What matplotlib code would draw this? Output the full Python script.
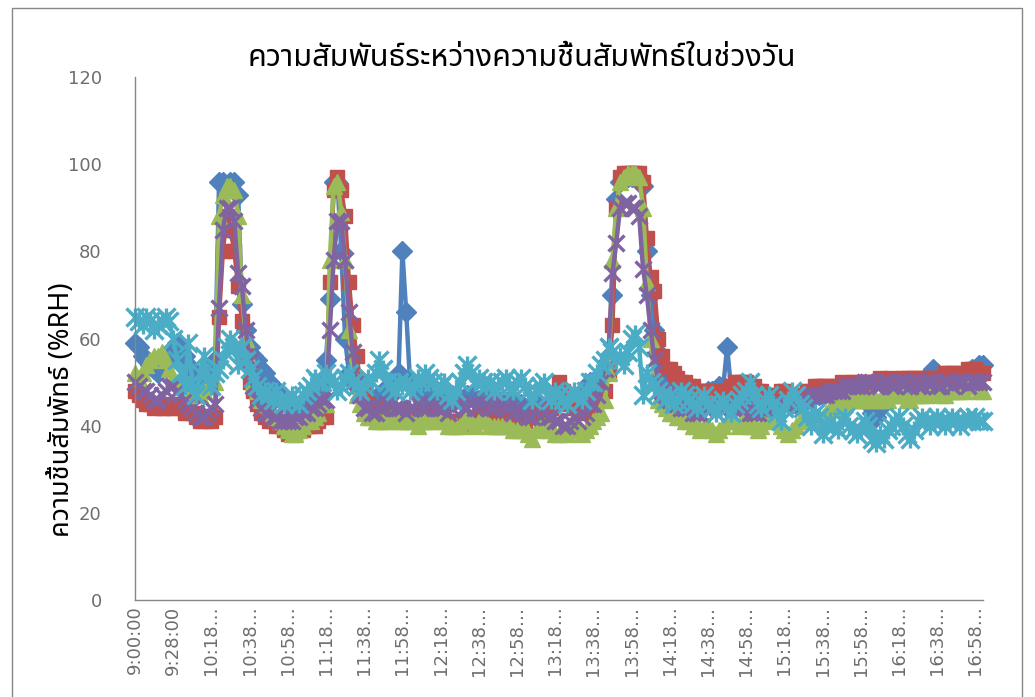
import matplotlib
matplotlib.use("Agg")
import matplotlib.pyplot as plt
from matplotlib import font_manager as fm
from matplotlib.ft2font import FT2Font
from matplotlib.path import Path
from matplotlib.patches import Rectangle

# ---------------------------------------------------------------- data
title = "ความสัมพันธ์ระหว่างความชื้นสัมพัทธ์ในช่วงวัน"
ylabel = "ความชื้นสัมพัทธ์ (%RH)"

tick_labels = ["9:00:00", "9:28:00", "10:18…", "10:38…", "10:58…", "11:18…",
               "11:38…", "11:58…", "12:18…", "12:38…", "12:58…", "13:18…",
               "13:38…", "13:58…", "14:18…", "14:38…", "14:58…", "15:18…",
               "15:38…", "15:58…", "16:18…", "16:38…", "16:58…"]
tick_every = 10

s_blue = [
    59, 58, 56, 55, 54, 53, 52, 53, 54, 55,
    57, 59, 58, 56, 54, 53, 52, 51, 52, 53,
    54, 55, 96, 96, 95, 96, 96, 93, 68, 62,
    58, 56, 55, 53, 52, 50, 49, 48, 47, 46,
    45, 45, 44, 44, 45, 46, 46, 47, 48, 50,
    55, 69, 96, 96, 80, 60, 52, 50, 49, 48,
    47, 47, 46, 46, 47, 48, 48, 49, 50, 52,
    80, 66, 50, 49, 48, 47, 47, 48, 48, 47,
    47, 46, 46, 47, 47, 46, 46, 47, 47, 46,
    46, 46, 47, 47, 46, 46, 45, 45, 46, 46,
    45, 45, 44, 44, 45, 45, 45, 44, 45, 46,
    47, 47, 47, 46, 46, 46, 46, 47, 48, 50,
    50, 51, 51, 52, 55, 70, 92, 96, 97, 97,
    97, 97, 97, 95, 80, 70, 62, 57, 54, 52,
    50, 50, 49, 49, 48, 48, 48, 47, 47, 47,
    48, 48, 48, 49, 49, 58, 49, 48, 48, 48,
    48, 47, 47, 46, 46, 46, 45, 45, 46, 46,
    46, 46, 45, 45, 45, 46, 46, 47, 47, 47,
    47, 48, 48, 48, 48, 48, 48, 47, 47, 47,
    47, 46, 45, 43, 42, 44, 46, 47, 48, 48,
    48, 48, 49, 49, 50, 50, 50, 51, 52, 53,
    52, 51, 50, 50, 50, 51, 51, 52, 52, 53,
    53, 54, 54,
]

s_red = [
    48, 47, 46, 45, 45, 44, 45, 44, 44, 45,
    44, 45, 44, 43, 44, 43, 42, 41, 41, 42,
    41, 42, 65, 80, 88, 85, 80, 72, 64, 56,
    50, 48, 45, 43, 42, 41, 41, 40, 40, 39,
    38, 38, 38, 39, 39, 40, 40, 40, 41, 42,
    42, 73, 94, 97, 94, 88, 73, 63, 56, 50,
    47, 45, 44, 44, 43, 43, 42, 43, 42, 42,
    43, 42, 42, 43, 42, 41, 42, 42, 42, 43,
    42, 41, 41, 40, 41, 40, 40, 41, 41, 42,
    42, 43, 42, 41, 41, 42, 43, 42, 41, 41,
    40, 41, 41, 42, 42, 43, 42, 41, 43, 44,
    47, 50, 48, 46, 45, 44, 44, 43, 44, 44,
    45, 46, 47, 48, 52, 63, 90, 97, 98, 98,
    98, 98, 98, 96, 83, 74, 71, 60, 56, 53,
    53, 52, 51, 50, 50, 49, 49, 48, 48, 48,
    48, 47, 47, 48, 47, 48, 49, 50, 50, 50,
    50, 49, 49, 48, 48, 47, 47, 46, 47, 48,
    48, 47, 47, 46, 46, 47, 48, 48, 49, 49,
    49, 49, 48, 49, 49, 50, 49, 49, 50, 50,
    49, 50, 50, 50, 50, 51, 50, 50, 51, 50,
    50, 51, 51, 50, 51, 51, 51, 50, 51, 51,
    51, 51, 52, 52, 52, 51, 52, 52, 53, 53,
    53, 52, 52,
]

s_green = [
    52, 51, 52, 54, 55, 56, 56, 57, 55, 53,
    51, 50, 50, 49, 49, 48, 47, 47, 48, 49,
    50, 50, 88, 93, 95, 95, 94, 88, 70, 60,
    55, 50, 48, 46, 45, 44, 43, 42, 41, 40,
    39, 38, 38, 39, 40, 41, 41, 42, 43, 45,
    45, 78, 95, 96, 89, 78, 62, 52, 47, 45,
    43, 42, 42, 41, 41, 41, 41, 42, 42, 41,
    41, 41, 41, 41, 40, 41, 41, 41, 41, 42,
    42, 41, 40, 40, 40, 40, 41, 41, 41, 40,
    41, 41, 41, 40, 40, 40, 40, 40, 40, 39,
    39, 39, 40, 38, 37, 39, 40, 40, 39, 39,
    38, 38, 39, 38, 39, 40, 39, 38, 39, 40,
    41, 42, 43, 46, 52, 78, 90, 96, 97, 98,
    98, 98, 97, 90, 73, 60, 50, 46, 45, 44,
    43, 43, 42, 42, 41, 41, 40, 40, 39, 40,
    40, 39, 38, 39, 40, 41, 41, 41, 40, 41,
    41, 40, 40, 39, 40, 41, 42, 42, 41, 40,
    39, 38, 39, 40, 41, 41, 42, 42, 41, 42,
    42, 43, 44, 44, 45, 45, 45, 46, 46, 46,
    46, 46, 46, 47, 46, 46, 46, 46, 47, 47,
    47, 47, 46, 46, 47, 47, 47, 47, 48, 48,
    48, 47, 47, 48, 48, 48, 48, 48, 49, 49,
    49, 48, 48,
]

s_purple = [
    50, 49, 48, 48, 47, 46, 46, 47, 48, 49,
    49, 48, 47, 46, 45, 44, 43, 42, 42, 43,
    44, 45, 67, 85, 90, 90, 87, 75, 72, 62,
    55, 49, 46, 44, 43, 43, 42, 42, 41, 41,
    41, 41, 42, 42, 43, 43, 44, 44, 45, 46,
    46, 62, 78, 87, 87, 78, 66, 57, 50, 47,
    44, 44, 43, 43, 44, 44, 45, 45, 44, 44,
    44, 43, 44, 44, 45, 44, 44, 45, 45, 44,
    44, 44, 43, 44, 45, 45, 44, 44, 45, 44,
    45, 46, 45, 44, 44, 45, 45, 44, 44, 43,
    44, 43, 43, 42, 42, 43, 44, 43, 42, 42,
    41, 41, 40, 40, 41, 42, 41, 42, 43, 45,
    45, 47, 50, 53, 58, 75, 82, 90, 91, 91,
    90, 90, 88, 76, 70, 62, 55, 50, 48, 47,
    46, 45, 45, 44, 44, 44, 43, 43, 43, 44,
    44, 44, 43, 44, 44, 45, 45, 45, 44, 44,
    44, 43, 43, 43, 44, 44, 44, 44, 44, 45,
    45, 45, 45, 45, 46, 46, 46, 47, 47, 47,
    47, 47, 48, 48, 48, 48, 49, 49, 49, 49,
    49, 50, 50, 50, 49, 49, 50, 50, 49, 49,
    50, 50, 50, 49, 50, 49, 49, 50, 50, 50,
    49, 49, 50, 50, 49, 50, 50, 50, 49, 50,
    50, 50, 50,
]

s_cyan = [
    65, 64, 63, 65, 64, 62, 63, 64, 65, 64,
    60, 55, 52, 49, 59, 50, 47, 52, 56, 51,
    49, 52, 53, 55, 58, 60, 58, 54, 58, 55,
    53, 51, 49, 47, 48, 47, 46, 48, 46, 45,
    46, 47, 46, 45, 47, 48, 49, 51, 50, 50,
    52, 51, 50, 48, 49, 51, 52, 50, 49, 48,
    49, 51, 50, 52, 55, 53, 50, 49, 48, 50,
    49, 50, 48, 49, 51, 50, 52, 51, 50, 48,
    49, 50, 47, 46, 48, 50, 52, 54, 52, 50,
    51, 50, 49, 50, 48, 49, 50, 51, 49, 48,
    50, 51, 49, 48, 46, 48, 49, 50, 47, 46,
    48, 47, 46, 45, 47, 48, 47, 46, 48, 50,
    50, 52, 54, 55, 58, 57, 55, 56, 54, 57,
    60, 61, 58, 47, 52, 50, 49, 48, 47, 46,
    47, 45, 46, 48, 47, 46, 45, 44, 46, 47,
    45, 44, 43, 45, 46, 44, 43, 45, 46, 47,
    48, 50, 47, 45, 44, 46, 47, 45, 43, 41,
    44, 46, 48, 47, 45, 44, 42, 40, 43, 42,
    38, 40, 41, 40, 39, 41, 42, 40, 39, 38,
    39, 41, 40, 37, 36, 38, 37, 39, 40, 41,
    42, 40, 38, 37, 39, 41, 42, 41, 40, 41,
    42, 41, 40, 41, 42, 41, 40, 41, 42, 41,
    42, 41, 41,
]


# ---------------------------------------------------------------- fonts
def pick_thai_family():
    sample = "ความสัมพันธ์ชื้"
    preferred = ["Tahoma", "Noto Sans Thai", "Noto Sans Thai UI", "Loma",
                 "Garuda", "Sarabun", "TH Sarabun New", "Norasi", "Kinnari",
                 "Waree", "Umpush", "Laksaman", "FreeSans", "Noto Serif Thai"]
    candidates = []
    for f in fm.fontManager.ttflist:
        try:
            cmap = FT2Font(f.fname).get_charmap()
        except Exception:
            continue
        if all(ord(c) in cmap for c in sample):
            candidates.append(f.name)
    for name in preferred:
        if name in candidates:
            return name
    return candidates[0] if candidates else None


thai = pick_thai_family()
families = ([thai] if thai else []) + ["DejaVu Sans"]
plt.rcParams["font.family"] = families

# ---------------------------------------------------------------- figure
W, H = 1035, 697
fig = plt.figure(figsize=(W / 100, H / 100), dpi=100)
fig.patch.set_facecolor("white")

# chart-area outline
fig.add_artist(Rectangle((12 / W, -0.05), (1022 - 12) / W, 1.05 - 8 / H,
                         transform=fig.transFigure, fill=False,
                         edgecolor="#868686", linewidth=1.0))

left, right, top, bottom = 135, 983, 77, 600
ax = fig.add_axes([left / W, 1 - bottom / H, (right - left) / W, (bottom - top) / H])

x = list(range(len(s_blue)))

# asterisk marker: vertical stroke plus an X
star = Path([(0, -1), (0, 1), (-1, -1), (1, 1), (-1, 1), (1, -1)],
            [Path.MOVETO, Path.LINETO, Path.MOVETO, Path.LINETO,
             Path.MOVETO, Path.LINETO])

series = [
    (s_blue, "#4F81BD", "D", 10, 1.0),
    (s_red, "#C0504D", "s", 10, 1.0),
    (s_green, "#9BBB59", "^", 12, 1.0),
    (s_purple, "#8064A2", "x", 11, 2.4),
    (s_cyan, "#4BACC6", star, 13, 2.4),
]
for vals, col, mk, ms, mew in series:
    ax.plot(x, vals, color=col, linewidth=3.2, marker=mk, markersize=ms,
            markerfacecolor=col, markeredgecolor=col, markeredgewidth=mew,
            solid_joinstyle="round", clip_on=False)

ax.set_xlim(0, len(s_blue) - 1)
ax.set_ylim(0, 120)
ax.set_yticks(range(0, 121, 20))
ax.set_xticks([i * tick_every for i in range(len(tick_labels))])
ax.set_xticklabels(tick_labels, rotation=90, fontsize=13, color="#6e6e6e",
                   family="DejaVu Sans")
for lab in ax.get_yticklabels():
    lab.set_family("DejaVu Sans")
ax.tick_params(axis="y", length=0, pad=24, labelsize=13, labelcolor="#6e6e6e")
ax.tick_params(axis="x", length=0, pad=4)

for side in ("top", "right"):
    ax.spines[side].set_visible(False)
for side in ("left", "bottom"):
    ax.spines[side].set_color("#868686")
    ax.spines[side].set_linewidth(1.0)

fig.text(522 / W, 1 - 58 / H, title, ha="center", va="center", fontsize=22,
         color="black")
fig.text(62 / W, 1 - 410 / H, ylabel, ha="center", va="center", rotation=90,
         fontsize=19.5, color="black")

fig.savefig("out.png", dpi=100, facecolor="white")
